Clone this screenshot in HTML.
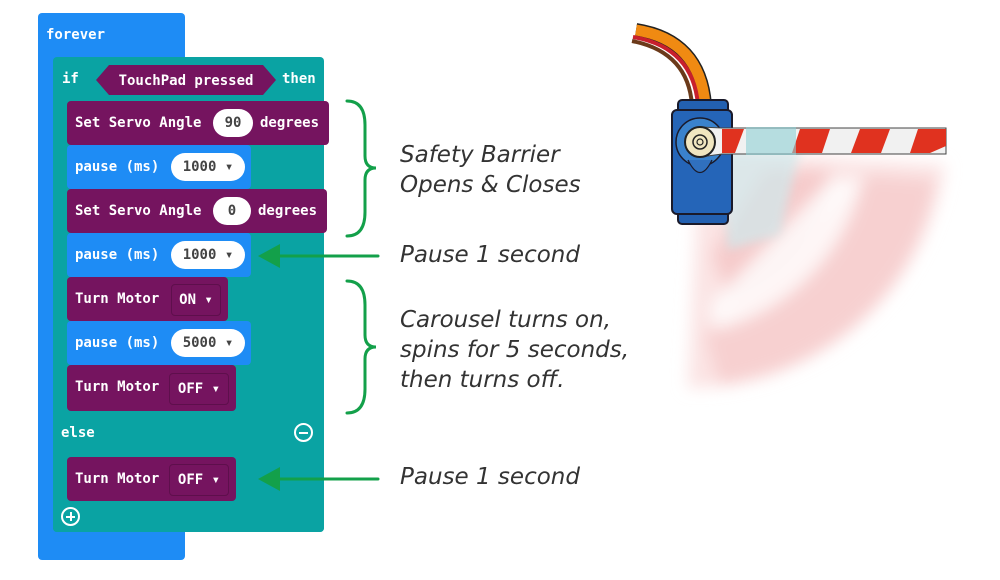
<!DOCTYPE html>
<html><head><meta charset="utf-8"><style>
body{margin:0;width:1000px;height:580px;background:#fff;position:relative;overflow:hidden;font-family:"DejaVu Sans Mono","Liberation Mono",monospace;}
.b{position:absolute;border-radius:4px;color:#fff;font-size:14px;font-weight:bold;box-sizing:border-box;}
.blue{background:#1e8cf5;}
.teal{background:#0aa3a3;}
.pur{background:#75145f;}
.t{position:absolute;top:0;line-height:44px;white-space:pre;}
.pill{position:absolute;background:#fff;color:#444;border-radius:14px;height:28px;top:8px!important;line-height:28px;text-align:center;font-size:14px;}
.dd{position:absolute;border:1px solid #5e0f4c;border-radius:4px;height:30px;line-height:30px;font-size:14px;color:#fff;}
.lab{position:absolute;font-family:"DejaVu Sans","Liberation Sans",sans-serif;font-style:italic;font-size:23px;color:#333;line-height:30px;white-space:pre;}
</style></head><body>
<div class="b blue" style="left:38px;top:13px;width:147px;height:547px;"><span class="t" style="left:8px;">forever</span></div>
<div class="b teal" style="left:53px;top:57px;width:271px;height:475px;"><span class="t" style="left:9px;">if</span><span class="t" style="left:229px;">then</span></div>
<svg style="position:absolute;left:96px;top:65px" width="180" height="30"><polygon points="0,15 13,0 167,0 180,15 167,30 13,30" fill="#75145f"/><text x="90" y="20" fill="#fff" font-family="DejaVu Sans Mono" font-weight="bold" font-size="14" text-anchor="middle">TouchPad pressed</text></svg>
<div class="b pur" style="left:67px;top:101px;width:262px;height:44px;"><span class="t" style="left:8px;">Set Servo Angle</span><div class="pill" style="left:146px;width:40px;">90</div><span class="t" style="left:193px;">degrees</span></div>
<div class="b blue" style="left:67px;top:145px;width:184px;height:44px;"><span class="t" style="left:8px;">pause (ms)</span><div class="pill" style="left:104px;width:74px;">1000 ▾</div></div>
<div class="b pur" style="left:67px;top:189px;width:260px;height:44px;"><span class="t" style="left:8px;">Set Servo Angle</span><div class="pill" style="left:146px;width:38px;">0</div><span class="t" style="left:191px;">degrees</span></div>
<div class="b blue" style="left:67px;top:233px;width:184px;height:44px;"><span class="t" style="left:8px;">pause (ms)</span><div class="pill" style="left:104px;width:74px;">1000 ▾</div></div>
<div class="b pur" style="left:67px;top:277px;width:161px;height:44px;"><span class="t" style="left:8px;">Turn Motor</span><div class="dd" style="left:104px;top:7px;width:48px;text-align:center;">ON ▾</div></div>
<div class="b blue" style="left:67px;top:321px;width:184px;height:44px;"><span class="t" style="left:8px;">pause (ms)</span><div class="pill" style="left:104px;width:74px;">5000 ▾</div></div>
<div class="b pur" style="left:67px;top:365px;width:169px;height:46px;"><span class="t" style="left:8px;">Turn Motor</span><div class="dd" style="left:102px;top:8px;width:58px;text-align:center;">OFF ▾</div></div>
<div class="b teal" style="left:53px;top:411px;width:271px;height:45px;"><span class="t" style="left:8px;">else</span><span style="position:absolute;left:241px;top:12px;width:19px;height:19px;border:2px solid #fff;border-radius:50%;box-sizing:border-box;"><span style="position:absolute;left:3px;top:6.5px;width:9px;height:2px;background:#fff"></span></span></div>
<div class="b pur" style="left:67px;top:457px;width:169px;height:44px;"><span class="t" style="left:8px;">Turn Motor</span><div class="dd" style="left:102px;top:7px;width:58px;text-align:center;">OFF ▾</div></div>
<div class="b teal" style="left:53px;top:501px;width:271px;height:31px;border-radius:0 0 4px 4px;"><span style="position:absolute;left:8px;top:6px;width:19px;height:19px;border:2px solid #fff;border-radius:50%;box-sizing:border-box;"><span style="position:absolute;left:3px;top:6.5px;width:9px;height:2px;background:#fff"></span><span style="position:absolute;left:6.5px;top:3px;width:2px;height:9px;background:#fff"></span></span></div>

<svg style="position:absolute;left:0;top:0" width="1000" height="580">
<g fill="none" stroke="#13a04a" stroke-width="3" stroke-linecap="round">
<path d="M347,101 Q365,101 365,125 L365,156 Q365,168 376,168 Q365,168 365,180 L365,212 Q365,236 347,236"/>
<path d="M347,281 Q365,281 365,305 L365,335 Q365,347 376,347 Q365,347 365,359 L365,389 Q365,413 347,413"/>
<line x1="378" y1="256" x2="275" y2="256"/><line x1="378" y1="479" x2="275" y2="479"/>
</g>
<polygon points="258,256 280,244 280,268" fill="#13a04a"/>
<polygon points="258,479 280,467 280,491" fill="#13a04a"/>
<defs><filter id="bl"><feGaussianBlur stdDeviation="8"/></filter><filter id="bl2"><feGaussianBlur stdDeviation="5"/></filter></defs>
<g filter="url(#bl)">
<path d="M700,150 L945,165 A260,260 0 0 1 688,388 Z" fill="#fbe4e4"/>
<path d="M765,170 L830,170 A150,150 0 0 1 730,300 L712,255 Z" fill="#f4c0c0" opacity="0.7"/>
<path d="M870,175 L935,180 A245,245 0 0 1 720,385 L705,335 Z" fill="#f5c8c8" opacity="0.7"/>
<path d="M830,180 L862,180 A200,200 0 0 1 715,330 L710,305 Z" fill="#ffffff" opacity="0.8"/>
</g>
<path d="M720,150 L800,150 L780,235 L728,250 Z" fill="#cfe9ec" opacity="0.7" filter="url(#bl2)"/>
<path d="M636,30 Q700,40 705,105" fill="none" stroke="#222" stroke-width="14"/>
<path d="M636,30 Q700,40 705,105" fill="none" stroke="#f08a12" stroke-width="11"/>
<path d="M633,37 Q693,47 698,105" fill="none" stroke="#c81f2c" stroke-width="4"/>
<path d="M632,41 Q688,52 692,105" fill="none" stroke="#6b3a1a" stroke-width="4"/>
<rect x="678" y="100" width="50" height="124" rx="4" fill="#2360b0" stroke="#1a1a2a" stroke-width="2"/>
<rect x="672" y="110" width="60" height="104" rx="5" fill="#2565b8" stroke="#1a1a2a" stroke-width="2"/>
<circle cx="700" cy="142" r="24" fill="#3a82cc" stroke="#1a1a2a" stroke-width="1.5"/>
<path d="M688,160 Q700,185 712,160" fill="#3070be" stroke="#1a1a2a" stroke-width="1.2"/>
<path d="M700,127 L722,128 L946,128 L946,154 L722,154 L700,157 Z" fill="#f1f1f1" stroke="#444" stroke-width="1"/>
<g fill="#e0321f"><polygon points="722,129 744,129 735,153 722,153"/><polygon points="800,129 830,129 822,153 792,153"/><polygon points="860,129 890,129 881,153 851,153"/><polygon points="918,129 946,129 946,146 930,153 910,153"/></g>
<rect x="746" y="127" width="50" height="28" fill="#8fd0d6" opacity="0.6"/>
<circle cx="700" cy="142" r="15" fill="#f0e6c0" stroke="#222" stroke-width="2"/>
<circle cx="700" cy="142" r="7" fill="none" stroke="#222" stroke-width="1.5"/>
<circle cx="700" cy="142" r="3" fill="none" stroke="#222" stroke-width="1.2"/>
</svg>
<div class="lab" style="left:400px;top:140px;">Safety Barrier
Opens &amp; Closes</div>
<div class="lab" style="left:400px;top:240px;">Pause 1 second</div>
<div class="lab" style="left:400px;top:305px;">Carousel turns on,
spins for 5 seconds,
then turns off.</div>
<div class="lab" style="left:400px;top:462px;">Pause 1 second</div>
</body></html>
